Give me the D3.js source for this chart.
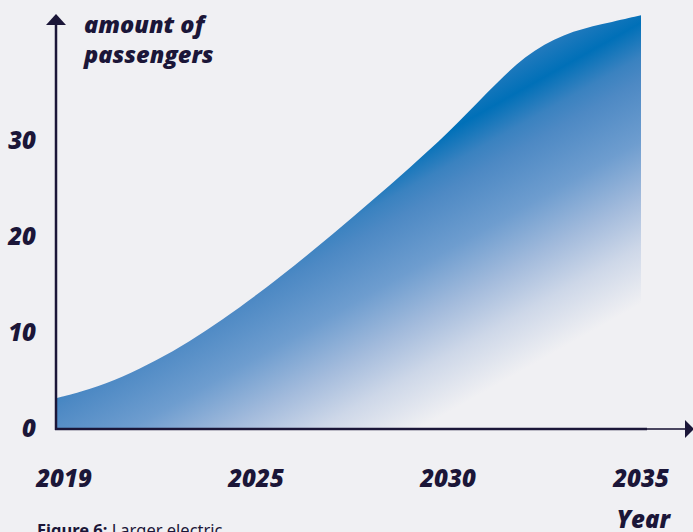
<!DOCTYPE html>
<html>
<head>
<meta charset="utf-8">
<script src="https://cdn.jsdelivr.net/npm/d3@7"></script>
<style>
  html, body { margin: 0; padding: 0; background: #f0f0f3; }
  svg { display: block; }
  .tick-label { font-family: "Open Sans", sans-serif; font-weight: 800; font-style: italic; font-size: 24px; fill: #1b1638; }
  .axis-title { font-family: "Open Sans", sans-serif; font-weight: 800; font-style: italic; font-size: 23.5px; fill: #1b1638; }
  .caption { font-family: "Noto Sans", sans-serif; font-size: 16.5px; fill: #1b1638; }
</style>
</head>
<body>
<div id="container"></div>
<script>
// data
const years = [2019, 2020, 2021, 2022, 2023, 2024, 2025, 2026, 2027, 2028, 2029, 2030, 2031, 2032, 2033, 2034, 2035];
const passengers = [3.2, 4.1, 5.4, 7.1, 9.1, 11.4, 13.9, 17.0, 20.3, 23.7, 27.2, 30.8, 35.0, 39.0, 41.2, 42.2, 43.1];
const xTicks = [2019, 2025, 2030, 2035];
const yTicks = [0, 10, 20, 30];

const W = 693, H = 532;
const ink = "#1b1638";

const svg = d3.select("#container").append("svg")
  .attr("width", W)
  .attr("height", H);

svg.append("rect").attr("width", W).attr("height", H).attr("fill", "#f0f0f3");

// tick years are evenly spaced on the original, so a polylinear scale
const x = d3.scaleLinear()
  .domain(xTicks)
  .range([56, 256, 448, 641]);

const y = d3.scaleLinear()
  .domain([0, 30])
  .range([429, 141]);

const data = years.map((yr, i) => ({ year: yr, value: passengers[i] }));

// diagonal gradient, dark band under the top of the curve, fading to bg at lower right
const defs = svg.append("defs");
const grad = defs.append("linearGradient")
  .attr("id", "areaGrad")
  .attr("gradientUnits", "userSpaceOnUse")
  .attr("x1", 0).attr("y1", 0)
  .attr("x2", 294).attr("y2", 522);
const stops = [
  [0.50, "#2a7cbe"],
  [0.558, "#0070b8"],
  [0.608, "#3a82c0"],
  [0.642, "#4d89c4"],
  [0.73, "#6e9dcf"],
  [0.812, "#a3bbdc"],
  [0.883, "#cdd7e8"],
  [0.967, "#f0f0f3"]
];
stops.forEach(s => grad.append("stop").attr("offset", s[0]).attr("stop-color", s[1]));

const area = d3.area()
  .x(d => x(d.year))
  .y0(y(0))
  .y1(d => y(d.value))
  .curve(d3.curveBasis);

svg.append("path")
  .datum(data)
  .attr("fill", "url(#areaGrad)")
  .attr("d", area);

// axes
svg.append("line")
  .attr("x1", 56).attr("x2", 56)
  .attr("y1", 22).attr("y2", 430)
  .attr("stroke", ink).attr("stroke-width", 2.5);
svg.append("path")
  .attr("d", "M46,25 L56,14 L66,25 Z")
  .attr("fill", ink);

svg.append("line")
  .attr("x1", 55).attr("x2", 647)
  .attr("y1", y(0)).attr("y2", y(0))
  .attr("stroke", ink).attr("stroke-width", 2.7);
svg.append("line")
  .attr("x1", 647).attr("x2", 687)
  .attr("y1", y(0)).attr("y2", y(0))
  .attr("stroke", "#4a4660").attr("stroke-width", 2);
svg.append("path")
  .attr("d", `M685,${y(0) - 9} L694,${y(0)} L685,${y(0) + 9} Z`)
  .attr("fill", ink);

// y tick labels
svg.selectAll("text.ylab")
  .data(yTicks)
  .enter()
  .append("text")
  .attr("class", "tick-label ylab")
  .attr("x", 36)
  .attr("y", d => y(d) - 1)
  .attr("dy", "0.36em")
  .attr("text-anchor", "end")
  .text(d => d);

// x tick labels
svg.selectAll("text.xlab")
  .data(xTicks)
  .enter()
  .append("text")
  .attr("class", "tick-label xlab")
  .attr("x", d => x(d) + (d === 2019 ? 8 : 0))
  .attr("y", 487)
  .attr("text-anchor", "middle")
  .text(d => d);

// titles
svg.append("text")
  .attr("class", "axis-title")
  .attr("x", 84).attr("y", 33)
  .text("amount of");
svg.append("text")
  .attr("class", "axis-title")
  .attr("x", 84).attr("y", 63)
  .text("passengers");

svg.append("text")
  .attr("class", "tick-label")
  .attr("x", 670).attr("y", 528)
  .attr("text-anchor", "end")
  .text("Year");

// caption (cut off at the bottom edge, as in the original)
const cap = svg.append("text")
  .attr("class", "caption")
  .attr("x", 37).attr("y", 536);
cap.append("tspan").attr("font-weight", 700).text("Figure 6:");
cap.append("tspan").text(" Larger electric");
</script>
</body>
</html>
